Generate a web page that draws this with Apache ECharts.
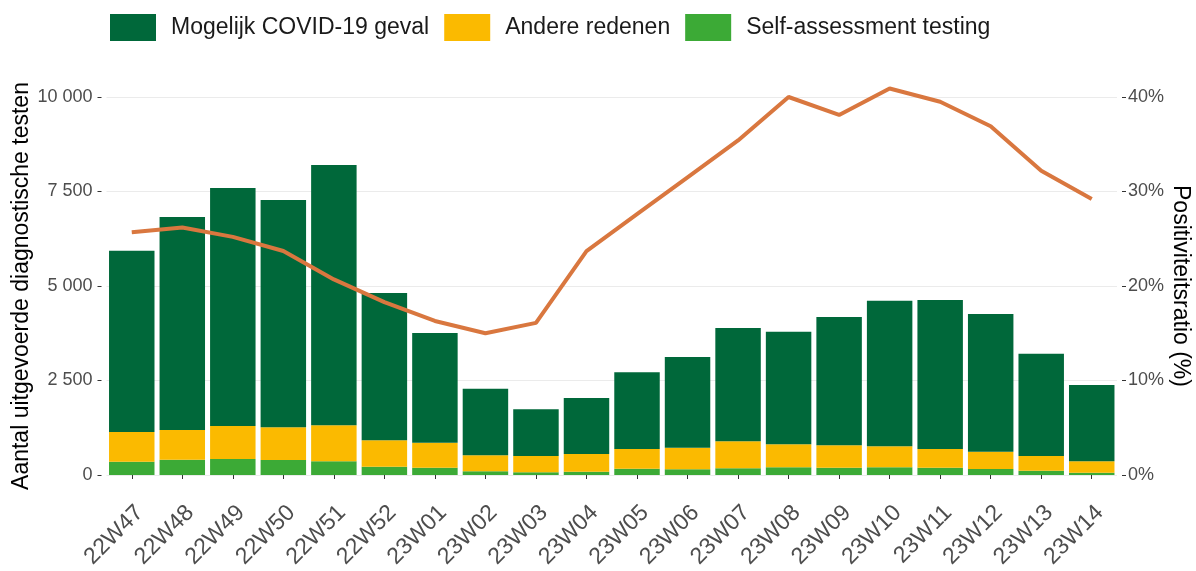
<!DOCTYPE html>
<html>
<head>
<meta charset="utf-8">
<title>Diagnostische testen</title>
<script src="https://cdn.jsdelivr.net/npm/echarts@6/dist/echarts.min.js"></script>
<style>
    html, body { margin: 0; padding: 0; background: #fff; }
    #tests-echarts { width: 1196px; height: 571px; }
</style>
</head>
<body>
<div id="tests-echarts"></div>
<script>
// weken
var weeks = ['22W47', '22W48', '22W49', '22W50', '22W51', '22W52', '23W01', '23W02', '23W03', '23W04',
    '23W05', '23W06', '23W07', '23W08', '23W09', '23W10', '23W11', '23W12', '23W13', '23W14'];

// aantal testen per reden (gestapeld)
var mogelijkCovid = [4792, 5635, 6297, 6014, 6886, 3898, 2902, 1762, 1235, 1481,
    2028, 2399, 2998, 2981, 3395, 3854, 3942, 3642, 2707, 2019];
var andereRedenen = [786, 785, 873, 864, 953, 697, 661, 423, 432, 468,
    520, 573, 715, 608, 591, 555, 494, 458, 388, 300];
var selfAssessment = [352, 405, 423, 397, 361, 220, 194, 98, 71, 88,
    168, 150, 176, 203, 194, 203, 194, 159, 115, 62];

// positiviteitsratio (%)
var positiviteit = [25.7, 26.2, 25.2, 23.7, 20.7, 18.3, 16.3, 15.0, 16.1, 23.7,
    27.6, 31.5, 35.4, 40.0, 38.1, 40.9, 39.5, 36.9, 32.2, 29.2];

var legendNames = ['Mogelijk COVID-19 geval', 'Andere redenen', 'Self-assessment testing'];

drawTestsEcharts();

/**
 * 10000 -> "10 000"
 */
function formatThousands(value) {
    return String(value).replace(/\B(?=(\d{3})+(?!\d))/g, ' ');
}

/**
 * grafiek tekenen
 */
function drawTestsEcharts() {
    var chartDom = document.getElementById('tests-echarts');
    var myChart = echarts.init(chartDom);
    var option;
    var font = '"Liberation Sans", Arial, sans-serif';

    option = {
        animation: false,
        textStyle: { fontFamily: font },
        color: ['#00683A', '#FBBA00', '#3CAA36', '#D9773F'],
        legend: {
            data: legendNames,
            left: 105,
            top: 9,
            itemWidth: 46,
            itemHeight: 27,
            itemGap: 15,
            icon: 'rect',
            textStyle: {
                fontFamily: font,
                fontSize: 23,
                color: '#1a1a1a',
                padding: [0, 0, 0, 10]
            }
        },
        grid: {
            left: 106.5,
            right: 79,
            top: 97,
            bottom: 96,
            outerBoundsMode: 'none',
            containLabel: false
        },
        xAxis: [
            {
                type: 'category',
                data: weeks,
                offset: 19,
                axisLine: { show: false },
                axisTick: {
                    show: true,
                    alignWithLabel: true,
                    length: 4,
                    lineStyle: { color: '#333333' }
                },
                axisLabel: {
                    rotate: 45,
                    margin: 7,
                    align: 'right',
                    verticalAlign: 'top',
                    fontSize: 23,
                    color: '#4d4d4d',
                    fontFamily: font
                }
            }
        ],
        yAxis: [
            {
                type: 'value',
                min: 0,
                max: 10000,
                interval: 2500,
                offset: 5,
                name: 'Aantal uitgevoerde diagnostische testen',
                nameLocation: 'middle',
                nameGap: 68,
                nameMoveOverlap: false,
                nameTextStyle: { fontSize: 23, color: '#000', fontFamily: font },
                axisLine: { show: false },
                axisTick: { show: true, length: 4, lineStyle: { color: '#333333' } },
                axisLabel: {
                    margin: 9,
                    fontSize: 18,
                    color: '#4d4d4d',
                    fontFamily: font,
                    formatter: formatThousands
                },
                splitLine: { show: true, lineStyle: { color: '#ebebeb', width: 1.2 } }
            },
            {
                type: 'value',
                min: 0,
                max: 40,
                interval: 10,
                offset: 5,
                position: 'right',
                name: 'Positiviteitsratio (%)',
                nameLocation: 'middle',
                nameRotate: -90,
                nameGap: 47,
                nameMoveOverlap: false,
                nameTextStyle: { fontSize: 23, color: '#000', fontFamily: font },
                axisLine: { show: false },
                axisTick: { show: true, length: 4, lineStyle: { color: '#333333' } },
                axisLabel: {
                    margin: 6,
                    fontSize: 18,
                    color: '#4d4d4d',
                    fontFamily: font,
                    formatter: '{value}%'
                },
                splitLine: { show: false }
            }
        ],
        series: [
            {
                name: 'Self-assessment testing',
                type: 'bar',
                stack: 'testen',
                barWidth: '90%',
                itemStyle: { color: '#3CAA36' },
                data: selfAssessment
            },
            {
                name: 'Andere redenen',
                type: 'bar',
                stack: 'testen',
                barWidth: '90%',
                itemStyle: { color: '#FBBA00' },
                data: andereRedenen
            },
            {
                name: 'Mogelijk COVID-19 geval',
                type: 'bar',
                stack: 'testen',
                barWidth: '90%',
                itemStyle: { color: '#00683A' },
                data: mogelijkCovid
            },
            {
                name: 'Positiviteitsratio',
                type: 'line',
                yAxisIndex: 1,
                symbol: 'none',
                clip: false,
                z: 5,
                lineStyle: { color: '#D9773F', width: 4 },
                data: positiviteit
            }
        ]
    };

    option && myChart.setOption(option);

    window.addEventListener('resize', function () {
        myChart.resize();
    });
}
</script>
</body>
</html>
